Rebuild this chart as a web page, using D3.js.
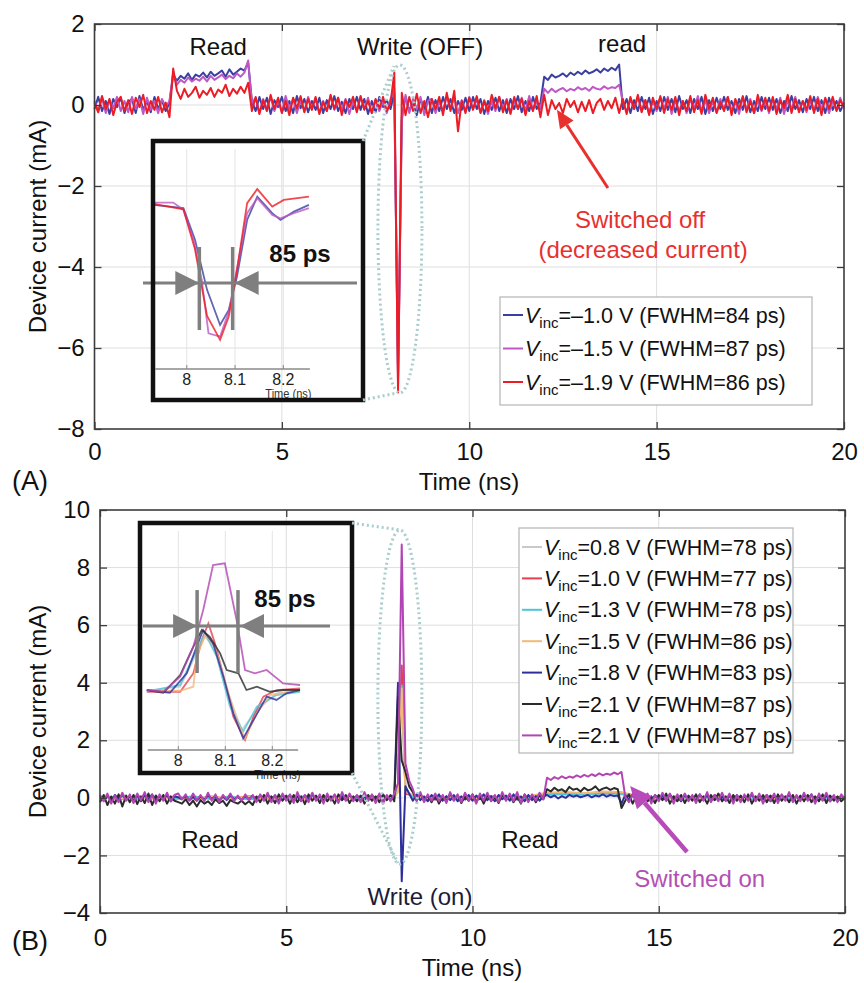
<!DOCTYPE html>
<html>
<head>
<meta charset="utf-8">
<script src="https://cdn.jsdelivr.net/npm/d3@7"></script>
<style>
  body { margin: 0; background: #fff; }
  svg { font-family: "Liberation Sans", Arial, sans-serif; }
</style>
</head>
<body>
<div id="svg-container"></div>
<script>
const width = 864;
const height = 983;

// ---------- Panel A traces: one sample every 0.1 ns, 0..20 ns (mA)
const dt = 0.1;
const blueA = [
-.1,.2,-.15,.1,-.22,.15,-.05,.18,-.2,.08,
.15,-.2,.22,-.12,.1,-.18,.2,-.1,.12,-.15,
.05,.75,.6,.72,.65,.78,.62,.75,.7,.8,
.68,.82,.72,.78,.85,.7,.88,.75,.82,.9,
.85,1.05,.1,-.15,.2,-.1,.18,-.22,.12,-.05,
.2,-.15,.1,-.2,.22,-.08,.15,-.18,.1,-.12,
.18,-.2,.12,-.1,.22,-.15,.08,-.2,.15,-.1,
.2,-.12,.15,-.22,.1,-.18,.2,-.05,.12,-.1,
.3,-6.7,-.3,.2,-.15,.1,-.25,.15,-.1,.2,
-.2,.12,-.15,.2,-.1,.15,-.2,.1,-.12,.18,
-.15,.2,-.1,.15,-.22,.1,-.12,.18,-.15,.12,
-.2,.15,-.1,.22,-.18,.1,-.15,.2,-.1,.05,
.7,.62,.75,.68,.72,.78,.7,.8,.74,.82,
.76,.85,.78,.82,.88,.8,.9,.84,.92,.86,
1.0,-.1,.15,-.2,.12,-.15,.2,-.1,.18,-.22,
.1,-.15,.2,-.12,.15,-.18,.22,-.1,.12,-.2,
.15,-.1,.2,-.22,.12,-.15,.18,-.1,.2,-.12,
.1,-.2,.15,-.12,.22,-.18,.1,-.15,.2,-.1,
.18,-.12,.15,-.2,.1,-.15,.22,-.1,.12,-.18,
.15,-.1,.2,-.15,.12,-.2,.18,-.12,.1,-.15,
.05];
const purpleA = [
.1,-.15,.18,-.2,.12,-.08,.2,-.15,.1,-.18,
.2,-.1,.15,-.22,.18,-.12,.1,-.2,.15,-.05,
.1,.8,.5,.62,.55,.68,.58,.65,.6,.7,
.58,.72,.62,.68,.75,.64,.72,.66,.78,.7,
.8,1.1,.05,.18,-.2,.15,-.1,.2,-.15,.1,
-.18,.22,-.1,.15,-.2,.12,-.15,.2,-.08,.15,
-.2,.1,-.15,.22,-.12,.18,-.1,.15,-.22,.1,
-.15,.2,-.1,.18,-.2,.12,-.15,.1,-.2,.15,
.4,-6.9,-.4,.25,-.2,.15,-.1,.2,-.25,.1,
.15,-.2,.1,-.15,.22,-.1,.18,-.2,.12,-.15,
.2,-.1,.15,-.18,.12,-.22,.1,-.15,.2,-.1,
.15,-.2,.12,-.1,.18,-.15,.22,-.12,.1,-.1,
.4,.3,.4,.32,.38,.42,.34,.4,.36,.44,
.38,.42,.35,.45,.4,.38,.46,.4,.44,.42,
.5,.1,-.18,.15,-.1,.2,-.15,.12,-.2,.1,
-.15,.18,-.1,.2,-.22,.12,-.15,.1,-.2,.15,
-.1,.22,-.15,.12,-.2,.1,-.18,.15,-.12,.2,
-.15,.1,-.22,.18,-.1,.15,-.2,.12,-.15,.1,
-.2,.15,-.1,.18,-.22,.12,-.1,.2,-.15,.1,
-.18,.12,-.15,.2,-.1,.15,-.2,.1,-.12,.18,
-.1];
const redA = [
.05,-.18,.22,-.1,.15,-.25,.08,.2,-.15,.12,
-.22,.18,-.05,.25,-.2,.1,-.12,.2,-.18,.06,
-.3,.9,.35,.15,.4,.2,.3,.45,.18,.35,
.25,.42,.2,.38,.3,.5,.22,.4,.28,.45,
.3,.55,-.15,.2,-.22,.12,-.15,.25,-.1,.18,
-.2,.1,-.25,.18,-.08,.22,-.18,.15,-.12,.2,
-.22,.08,-.15,.25,-.1,.18,-.25,.12,-.05,.2,
-.18,.22,-.12,.1,-.2,.15,-.08,.2,-.15,.05,
.8,-7.1,.3,-.25,.2,-.15,.28,-.2,.1,-.3,
.15,-.1,.2,-.25,.3,-.15,.35,-.65,.1,-.2,
.18,-.12,.22,-.2,.1,-.15,.25,-.08,.2,-.18,
.12,-.22,.2,-.1,.15,-.25,.1,-.15,.22,-.3,
.25,-.25,.12,-.1,.05,-.2,.15,-.05,.1,-.18,
.08,-.15,.12,-.2,.05,.15,-.12,.1,-.08,.18,
-.2,.15,-.22,.2,-.1,.25,-.18,.12,-.25,.18,
-.1,.22,-.2,.15,-.12,.2,-.25,.1,-.15,.22,
-.18,.12,-.22,.25,-.1,.18,-.2,.08,-.15,.2,
-.25,.15,-.1,.22,-.18,.1,-.2,.25,-.12,.18,
-.15,.2,-.22,.12,-.08,.25,-.2,.15,-.18,.1,
-.12,.22,-.2,.15,-.25,.18,-.1,.2,-.15,.12,
-.05];

// ---------- Panel B traces
// coarse traces (mostly hidden) share these sample times (ns)
const tCoarse = [0,.5,1,1.5,2,2.5,3,3.5,4,4.5,5,5.5,6,6.5,7,7.5,7.9,8,8.1,8.2,
  8.5,9,9.5,10,10.5,11,11.5,12,12.5,13,13.5,14,14.5,15,15.5,16,16.5,17,17.5,18,18.5,19,19.5,20];
const greyB = [0,.05,-.05,.04,-.06,.05,-.04,.06,-.05,.04,-.06,.05,-.04,.05,-.06,.04,
  .05,.3,3.7,.2,-.05,.04,-.06,.05,-.04,.06,-.05,.1,.12,.1,.14,.12,
  -.04,.05,-.06,.04,-.05,.06,-.04,.05,-.06,.04,-.05,.03];
const redB = [.04,-.05,.06,-.04,.05,-.06,.04,-.05,.06,-.04,.05,-.06,.04,-.05,.06,-.04,
  .06,.4,4.6,.15,.05,-.06,.04,-.05,.06,-.04,.05,.15,.18,.14,.2,.16,
  .05,-.04,.06,-.05,.04,-.06,.05,-.04,.06,-.05,.04,-.03];
const cyanB = [-.03,.04,-.06,.05,-.04,.06,-.05,.04,-.06,.05,-.04,.06,-.05,.04,-.06,.05,
  -.04,.35,3.9,.25,-.04,.05,-.06,.04,-.05,.06,-.04,.12,.14,.12,.16,.14,
  -.05,.06,-.04,.05,-.06,.04,-.05,.06,-.04,.05,-.06,.02];
const orangeB = [.02,-.04,.05,-.06,.04,-.05,.06,-.04,.05,-.06,.04,-.05,.06,-.04,.05,-.06,
  .04,.2,3.8,.2,.06,-.05,.04,-.06,.05,-.04,.06,.18,.2,.16,.22,.2,
  .04,-.06,.05,-.04,.06,-.05,.04,-.06,.05,-.04,.06,0];
// fine traces, one sample every 0.1 ns
const blueB = [
.05,-.1,.08,-.12,.1,-.05,.12,-.08,.05,-.1,
.08,-.12,.1,-.05,.12,-.1,.05,-.08,.1,-.12,
.05,.02,-.05,.06,-.08,.04,-.1,.05,-.06,.08,
-.04,.06,-.1,.05,-.08,.1,-.05,.04,-.08,.06,
-.05,.08,-.1,.1,-.08,.12,-.05,.08,-.12,.1,
-.06,.1,-.12,.05,-.1,.08,-.05,.12,-.08,.06,
-.1,.08,-.05,.1,-.12,.06,-.08,.1,-.05,.08,
-.12,.05,-.08,.1,-.06,.12,-.1,.05,-.08,.1,
4.0,-2.9,.4,.15,-.1,.12,-.08,.05,-.12,.1,
-.05,.12,-.1,.06,-.08,.1,-.12,.05,-.06,.1,
-.1,.08,-.05,.12,-.08,.06,-.12,.1,-.05,.08,
-.1,.12,-.06,.05,-.12,.1,-.08,.06,-.1,.05,
.1,.02,.08,-.02,.06,0,.1,.04,.08,.02,
.06,.1,.02,.08,.05,.12,.04,.1,.06,.08,
-.2,.1,-.08,.12,-.05,.08,-.1,.06,-.12,.1,
-.05,.08,-.1,.12,-.06,.05,-.12,.1,-.08,.06,
-.1,.12,-.05,.08,-.12,.1,-.06,.05,-.1,.08,
-.08,.1,-.12,.06,-.05,.12,-.1,.08,-.06,.1,
-.12,.05,-.08,.1,-.06,.12,-.1,.05,-.08,.1,
-.05,.12,-.1,.06,-.08,.1,-.12,.05,-.06,.08,
0];
const blackB = [
-.15,.1,-.25,.05,-.2,.12,-.3,.08,-.15,.1,
-.22,.05,-.18,.15,-.25,.08,-.12,.1,-.2,.05,
-.1,-.15,-.2,-.05,-.25,-.1,-.3,-.08,-.2,-.12,
-.25,-.05,-.18,-.1,-.28,-.08,-.15,-.2,-.1,-.22,
-.12,-.25,.05,-.15,.1,-.2,.05,-.18,.12,-.1,
.08,-.2,.1,-.15,.05,-.22,.12,-.1,.08,-.18,
.1,-.12,.05,-.2,.12,-.08,.1,-.18,.05,-.12,
.08,-.2,.1,-.1,.05,-.15,.12,-.08,.1,-.12,
3.5,1.3,.9,.4,.2,-.1,.15,-.12,.08,-.15,
.1,-.2,.05,-.12,.15,-.08,.1,-.18,.05,-.1,
.12,-.15,.08,-.2,.1,-.1,.05,-.18,.12,-.08,
.1,-.15,.05,-.2,.12,-.1,.08,-.15,.1,-.05,
.3,.22,.35,.25,.3,.2,.38,.28,.32,.22,
.35,.26,.3,.4,.25,.32,.36,.28,.34,.3,
-.35,-.1,.12,-.2,.08,-.15,.1,-.12,.05,-.18,
.1,-.08,.15,-.2,.05,-.12,.1,-.18,.08,-.1,
.12,-.15,.05,-.2,.1,-.08,.15,-.12,.05,-.18,
.1,-.1,.08,-.15,.12,-.2,.05,-.1,.1,-.15,
.08,-.18,.12,-.1,.05,-.15,.1,-.2,.08,-.12,
.1,-.15,.05,-.12,.12,-.18,.08,-.1,.05,-.12,
0];
const purpleB = [
.1,-.12,.15,-.2,.08,-.15,.18,-.1,.12,-.18,
.15,-.08,.2,-.15,.1,-.2,.12,-.1,.18,-.12,
.1,.15,-.05,.12,-.1,.15,-.08,.1,-.12,.18,
-.1,.12,-.15,.1,-.05,.15,-.12,.08,-.1,.12,
-.08,.1,-.15,.12,-.1,.18,-.15,.1,-.2,.15,
-.1,.12,-.18,.2,-.12,.1,-.15,.18,-.1,.12,
-.2,.15,-.1,.12,-.18,.2,-.1,.15,-.12,.1,
-.15,.2,-.1,.12,-.18,.15,-.2,.1,-.12,.15,
.5,8.8,1.2,.6,.3,-.1,.2,-.15,.12,-.1,
.15,-.12,.1,-.18,.2,-.1,.12,-.15,.18,-.1,
.12,-.2,.15,-.1,.18,-.12,.1,-.15,.2,-.1,
.15,-.12,.2,-.18,.1,-.15,.12,-.1,.18,-.05,
.7,.62,.72,.66,.75,.68,.74,.7,.78,.72,
.8,.74,.82,.76,.85,.78,.84,.8,.88,.82,
.9,.05,-.15,.12,-.1,.18,-.12,.15,-.2,.1,
-.12,.18,-.1,.15,-.2,.12,-.08,.15,-.12,.1,
-.18,.12,-.1,.2,-.15,.1,-.12,.18,-.1,.15,
-.2,.1,-.15,.12,-.1,.18,-.12,.15,-.2,.1,
-.1,.15,-.18,.12,-.1,.2,-.15,.1,-.12,.18,
-.1,.12,-.2,.15,-.1,.18,-.12,.1,-.15,.12,
-.05];

// ---------- Inset zooms around the write pulse, [time ns, current mA]
const insetBlueA = [[7.931,0],[7.993,-0.17],[8.017,-1.81],[8.042,-4.4],[8.069,-6.22],[8.087,-5.44],[8.104,-3.71],[8.125,-0.78],[8.146,0.43],[8.177,-0.43],[8.194,-0.78],[8.222,-0.35],[8.253,0]];
const insetPurpleA = [[7.931,0.12],[7.972,0.12],[7.993,-0.26],[8.014,-1.81],[8.031,-3.89],[8.045,-6.65],[8.069,-6.82],[8.087,-5.53],[8.101,-3.71],[8.125,-0.43],[8.146,0.35],[8.177,-0.52],[8.194,-0.69],[8.222,-0.43],[8.253,-0.17]];
const insetRedA = [[7.931,0.05],[7.993,-0.23],[8.017,-2.3],[8.042,-5.75],[8.069,-6.99],[8.087,-5.78],[8.104,-3.37],[8.125,0.09],[8.146,0.82],[8.177,-0.09],[8.201,0.26],[8.253,0.43]];

const insetGreyB = [[7.933,-0.05],[8.004,0.23],[8.039,2.55],[8.057,3.7],[8.082,2.78],[8.106,-0.23],[8.135,-2.78],[8.167,-1.39],[8.209,-0.23],[8.259,0]];
const insetRedB = [[7.933,-0.12],[8.004,-0.12],[8.032,1.16],[8.05,3.47],[8.064,4.63],[8.078,3.24],[8.096,0.93],[8.117,-1.85],[8.142,-3.47],[8.16,-1.85],[8.181,-0.46],[8.209,0],[8.259,0.12]];
const insetCyanB = [[7.933,-0.12],[8.004,0.35],[8.039,2.78],[8.057,3.93],[8.082,2.31],[8.11,-1.16],[8.138,-2.89],[8.167,-1.16],[8.209,-0.35],[8.259,-0.12]];
const insetOrangeB = [[7.933,-0.05],[8.004,-0.05],[8.032,0.23],[8.039,2.31],[8.057,3.82],[8.078,3.01],[8.103,0.23],[8.124,-2.08],[8.142,-3.36],[8.167,-1.62],[8.195,-0.35],[8.259,0]];
const insetBlueB = [[7.933,0],[7.982,-0.19],[8.018,1.16],[8.039,3.01],[8.053,4.17],[8.074,3.24],[8.096,0.93],[8.117,-1.62],[8.138,-3.36],[8.16,-2.08],[8.188,-0.46],[8.209,-0.69],[8.23,-0.23],[8.259,0]];
const insetBlackB = [[7.933,0],[7.968,-0.19],[8.004,1.04],[8.032,3.01],[8.05,4.17],[8.067,3.7],[8.089,2.55],[8.103,1.39],[8.128,1.16],[8.145,0],[8.167,0.23],[8.195,-0.12],[8.223,0],[8.259,0]];
const insetPurpleB = [[7.933,0],[7.968,-0.12],[8.004,0.93],[8.032,3.01],[8.053,5.56],[8.074,8.68],[8.099,8.8],[8.124,4.86],[8.142,1.39],[8.163,1.16],[8.188,1.39],[8.223,0.46],[8.259,0.35]];

// ---------- legend values
const voltsA = ["\u20131.0", "\u20131.5", "\u20131.9"];
const fwhmA = [84, 87, 86];
const voltsB = ["0.8", "1.0", "1.3", "1.5", "1.8", "2.1", "2.1"];
const fwhmB = [78, 77, 78, 86, 83, 87, 87];

// ---------- ticks
const xTicks = [0, 5, 10, 15, 20];
const yTicksA = [-8, -6, -4, -2, 0, 2];
const yTicksB = [-4, -2, 0, 2, 4, 6, 8, 10];
const insetTicks = [8, 8.1, 8.2];

// sampled arrays -> points
const fine = vals => vals.map((v, i) => [i * dt, v]);
const coarse = vals => tCoarse.map((t, i) => [t, vals[i]]);

const seriesA = [
  { color: "#3b3f9f", main: fine(blueA), inset: insetBlueA },
  { color: "#bd58c6", main: fine(purpleA), inset: insetPurpleA },
  { color: "#ec1c24", main: fine(redA), inset: insetRedA }
];
const seriesB = [
  { color: "#c9c9c9", main: coarse(greyB), inset: insetGreyB },
  { color: "#e5404f", main: coarse(redB), inset: insetRedB },
  { color: "#4cc6d6", main: coarse(cyanB), inset: insetCyanB },
  { color: "#f4b877", main: coarse(orangeB), inset: insetOrangeB },
  { color: "#2f2f9c", main: fine(blueB), inset: insetBlueB },
  { color: "#2b2b2b", main: fine(blackB), inset: insetBlackB },
  { color: "#b245b4", main: fine(purpleB), inset: insetPurpleB }
];

// ---------- scales
const xA = d3.scaleLinear().domain([0, 20]).range([94.5, 844]);
const yA = d3.scaleLinear().domain([-8, 2]).range([429, 24]);
const xB = d3.scaleLinear().domain([0, 20]).range([100, 845]);
const yB = d3.scaleLinear().domain([-4, 10]).range([913, 510]);

const xIA = d3.scaleLinear().domain([7.93, 8.26]).range([153, 312.3]);
const yIA = d3.scaleLinear().domain([-8.5, 3]).range([369, 147]);
const xIB = d3.scaleLinear().domain([7.93, 8.26]).range([145.4, 300.5]);
const yIB = d3.scaleLinear().domain([-4.2, 11.3]).range([750.5, 527.3]);

const svg = d3.select("#svg-container")
  .append("svg")
    .attr("width", width)
    .attr("height", height);

const gridColor = "#dedede";
const axisColor = "#3c3c3c";

function drawGrid(x, y, yTicks) {
  const [x0, x1] = x.range(), [yb, yt] = y.range();
  const g = svg.append("g");
  g.selectAll(".vg").data(xTicks.slice(1, -1)).enter().append("line")
    .attr("x1", d => x(d)).attr("x2", d => x(d)).attr("y1", yt).attr("y2", yb)
    .attr("stroke", gridColor).attr("stroke-width", 1);
  g.selectAll(".hg").data(yTicks.slice(1, -1)).enter().append("line")
    .attr("x1", x0).attr("x2", x1).attr("y1", d => y(d)).attr("y2", d => y(d))
    .attr("stroke", gridColor).attr("stroke-width", 1);
}

function drawTraces(series, x, y) {
  const line = d3.line().x(d => x(d[0])).y(d => y(d[1]));
  svg.append("g").selectAll("path").data(series).enter().append("path")
    .attr("d", d => line(d.main))
    .attr("fill", "none")
    .attr("stroke", d => d.color)
    .attr("stroke-width", 2)
    .attr("stroke-linejoin", "round");
}

function drawAxes(x, y, yTicks, pad) {
  const [x0, x1] = x.range(), [yb, yt] = y.range();
  const fmt = d3.format("d");
  const style = g => {
    g.select(".domain").remove();
    g.attr("font-family", null).attr("font-size", null);
    g.selectAll("line").attr("stroke", axisColor).attr("stroke-width", 1.3);
    g.selectAll("text").attr("fill", "#111").style("font-size", "24px");
  };
  svg.append("g").attr("transform", `translate(0,${yb})`)
    .call(d3.axisBottom(x).tickValues(xTicks).tickSize(-7).tickPadding(pad).tickFormat(fmt)).call(style);
  svg.append("g").attr("transform", `translate(0,${yt})`)
    .call(d3.axisTop(x).tickValues(xTicks).tickSize(-7).tickFormat("")).call(style);
  svg.append("g").attr("transform", `translate(${x0},0)`)
    .call(d3.axisLeft(y).tickValues(yTicks).tickSize(-7).tickPadding(10).tickFormat(fmt)).call(style);
  svg.append("g").attr("transform", `translate(${x1},0)`)
    .call(d3.axisRight(y).tickValues(yTicks).tickSize(-7).tickFormat("")).call(style);
  svg.append("rect")
    .attr("x", x0).attr("y", yt).attr("width", x1 - x0).attr("height", yb - yt)
    .attr("fill", "none").attr("stroke", axisColor).attr("stroke-width", 1.6);
}

function drawInset(series, x, y, box, axisY, fw) {
  const g = svg.append("g");
  const clipId = "clip" + Math.round(box.y);
  g.append("clipPath").attr("id", clipId).append("rect")
    .attr("x", box.x).attr("y", box.y).attr("width", box.w).attr("height", box.h);
  // faint grid at the inset ticks
  g.selectAll(".ig").data(insetTicks).enter().append("line")
    .attr("x1", d => x(d)).attr("x2", d => x(d)).attr("y1", box.y + 8).attr("y2", axisY)
    .attr("stroke", "#e4e4e4").attr("stroke-width", 1);
  const line = d3.line().x(d => x(d[0])).y(d => y(d[1]));
  g.append("g").attr("clip-path", `url(#${clipId})`)
    .selectAll("path").data(series).enter().append("path")
    .attr("d", d => line(d.inset))
    .attr("fill", "none")
    .attr("stroke", d => d.color)
    .attr("stroke-opacity", 0.8)
    .attr("stroke-width", 1.8);
  // small time axis
  const [ix0, ix1] = [x(7.935), x(8.255)];
  g.append("line").attr("x1", ix0).attr("x2", ix1).attr("y1", axisY).attr("y2", axisY)
    .attr("stroke", "#8a8a8a").attr("stroke-width", 1.5);
  g.selectAll(".it").data(insetTicks).enter().append("line")
    .attr("x1", d => x(d)).attr("x2", d => x(d)).attr("y1", axisY).attr("y2", axisY - 4)
    .attr("stroke", "#8a8a8a");
  g.selectAll(".il").data(insetTicks).enter().append("text")
    .attr("x", d => x(d)).attr("y", axisY + 16)
    .attr("text-anchor", "middle").attr("font-size", 16).attr("fill", "#222")
    .text(d => d3.format(".1~f")(d));
  g.append("text")
    .attr("transform", `translate(${x(8.2) - 18},${axisY + 29}) scale(0.85,1)`)
    .attr("font-size", 13).attr("fill", "#333").text("Time (ns)");
  // FWHM marker
  const grey = "#7f7f7f";
  const [t1, t2] = fw.t, hy = y(fw.half);
  g.append("line").attr("x1", fw.x0).attr("x2", fw.x1).attr("y1", hy).attr("y2", hy)
    .attr("stroke", grey).attr("stroke-width", 3);
  [t1, t2].forEach(t => {
    g.append("line").attr("x1", x(t)).attr("x2", x(t))
      .attr("y1", y(fw.top)).attr("y2", y(fw.bottom))
      .attr("stroke", grey).attr("stroke-width", 3.5);
  });
  const ah = 24, aw = 12;
  g.append("path").attr("fill", grey)
    .attr("d", `M${x(t1)},${hy} L${x(t1) - ah},${hy - aw} L${x(t1) - ah},${hy + aw} Z`);
  g.append("path").attr("fill", grey)
    .attr("d", `M${x(t2) + 2},${hy} L${x(t2) + 2 + ah},${hy - aw} L${x(t2) + 2 + ah},${hy + aw} Z`);
  g.append("text").attr("x", fw.tx).attr("y", fw.ty)
    .attr("text-anchor", "middle").attr("font-size", 24).attr("font-weight", "bold")
    .attr("fill", "#111").text("85 ps");
  // thick frame
  g.append("rect").attr("x", box.x).attr("y", box.y).attr("width", box.w).attr("height", box.h)
    .attr("fill", "none").attr("stroke", "#111").attr("stroke-width", 4.5);
}

function drawLegend(series, volts, fwhm, box, row0, step) {
  const g = svg.append("g");
  g.append("rect").attr("x", box.x).attr("y", box.y).attr("width", box.w).attr("height", box.h)
    .attr("fill", "#fff").attr("stroke", "#b4b4b4").attr("stroke-width", 1.2);
  series.forEach((s, i) => {
    const cy = row0 + i * step;
    g.append("line").attr("x1", box.x + 3).attr("x2", box.x + 23).attr("y1", cy).attr("y2", cy)
      .attr("stroke", s.color).attr("stroke-width", 2);
    const t = g.append("text").attr("x", box.x + 25).attr("y", cy + 7.5)
      .attr("font-size", 21.5).attr("fill", "#111");
    t.append("tspan").attr("font-style", "italic").text("V");
    t.append("tspan").attr("font-size", 15).attr("dy", 5).text("inc");
    t.append("tspan").attr("dy", -5).text(`=${volts[i]} V (FWHM=${fwhm[i]} ps)`);
  });
}

function label(x, y, t, v, text, opts = {}) {
  svg.append("text")
    .attr("x", x(t)).attr("y", y(v))
    .attr("text-anchor", opts.anchor || "middle")
    .attr("font-size", opts.size || 24)
    .attr("fill", opts.color || "#111")
    .text(text);
}

function arrow(x, y, from, to, color, w, head) {
  const x1 = x(from[0]), y1 = y(from[1]), x2 = x(to[0]), y2 = y(to[1]);
  const ang = Math.atan2(y2 - y1, x2 - x1);
  const bx = x2 - head * Math.cos(ang), by = y2 - head * Math.sin(ang);
  const nx = -Math.sin(ang) * head * 0.45, ny = Math.cos(ang) * head * 0.45;
  svg.append("line").attr("x1", x1).attr("y1", y1).attr("x2", bx).attr("y2", by)
    .attr("stroke", color).attr("stroke-width", w);
  svg.append("path").attr("fill", color)
    .attr("d", `M${x2},${y2} L${bx + nx},${by + ny} L${bx - nx},${by - ny} Z`);
}

function dotted(el) {
  return el.attr("fill", "none").attr("stroke", "#a9cdcd")
    .attr("stroke-width", 3).attr("stroke-dasharray", "2,3");
}

// ================= Panel A =================
drawGrid(xA, yA, yTicksA);
drawTraces(seriesA, xA, yA);
drawInset(seriesA, xIA, yIA, { x: 153, y: 141, w: 210, h: 259 }, 369,
  { t: [8.026, 8.095], half: -4.04, top: -2.18, bottom: -6.48, x0: 143, x1: 357, tx: 300, ty: 262 });
dotted(svg.append("ellipse")).attr("cx", xA(8.15)).attr("cy", yA(-3.06)).attr("rx", 22).attr("ry", 164);
dotted(svg.append("line")).attr("x1", 363).attr("y1", 141).attr("x2", 394).attr("y2", 66);
dotted(svg.append("line")).attr("x1", 363).attr("y1", 400).attr("x2", 397).attr("y2", 393);
drawLegend(seriesA, voltsA, fwhmA, { x: 500, y: 297, w: 312, h: 108 }, 315, 33.5);
drawAxes(xA, yA, yTicksA, 14);

label(xA, yA, 3.3, 1.23, "Read");
label(xA, yA, 8.69, 1.23, "Write (OFF)");
label(xA, yA, 14.08, 1.31, "read");
label(xA, yA, 14.56, -3.04, "Switched off", { color: "#e8312f" });
label(xA, yA, 14.64, -3.78, "(decreased current)", { color: "#e8312f" });
arrow(xA, yA, [13.7, -2.05], [12.34, -0.12], "#e8312f", 3, 18);

svg.append("text")
  .attr("transform", `translate(46,${(24 + 429) / 2}) rotate(-90)`)
  .attr("text-anchor", "middle").attr("font-size", 24).attr("fill", "#111")
  .text("Device current (mA)");
svg.append("text").attr("x", 469).attr("y", 490).attr("text-anchor", "middle")
  .attr("font-size", 24).attr("fill", "#111").text("Time (ns)");
svg.append("text").attr("x", 12).attr("y", 490).attr("font-size", 27).attr("fill", "#111").text("(A)");

// ================= Panel B =================
drawGrid(xB, yB, yTicksB);
drawTraces(seriesB, xB, yB);
drawInset(seriesB, xIB, yIB, { x: 140, y: 523, w: 212, h: 250 }, 750,
  { t: [8.04, 8.127], half: 4.44, top: 6.94, bottom: 1.18, x0: 143, x1: 330, tx: 285, ty: 607 });
dotted(svg.append("ellipse")).attr("cx", xB(8.05)).attr("cy", yB(3.5)).attr("rx", 22).attr("ry", 167);
dotted(svg.append("line")).attr("x1", 352).attr("y1", 523).attr("x2", 400).attr("y2", 530);
dotted(svg.append("line")).attr("x1", 352).attr("y1", 773).attr("x2", 398).attr("y2", 863);
drawLegend(seriesB, voltsB, fwhmB, { x: 519, y: 528, w: 274, h: 225 }, 547, 31.4);
drawAxes(xB, yB, yTicksB, 16);

label(xB, yB, 2.95, -1.74, "Read");
label(xB, yB, 11.54, -1.74, "Read");
label(xB, yB, 8.59, -3.72, "Write (on)", { color: "#1c1c3a" });
label(xB, yB, 16.1, -3.1, "Switched on", { color: "#b44fb4" });
arrow(xB, yB, [15.76, -1.88], [14.23, 0.41], "#b94ab9", 4.5, 22);

svg.append("text")
  .attr("transform", `translate(46,${(510 + 913) / 2}) rotate(-90)`)
  .attr("text-anchor", "middle").attr("font-size", 24).attr("fill", "#111")
  .text("Device current (mA)");
svg.append("text").attr("x", 472).attr("y", 976).attr("text-anchor", "middle")
  .attr("font-size", 24).attr("fill", "#111").text("Time (ns)");
svg.append("text").attr("x", 12).attr("y", 950).attr("font-size", 27).attr("fill", "#111").text("(B)");
</script>
</body>
</html>
